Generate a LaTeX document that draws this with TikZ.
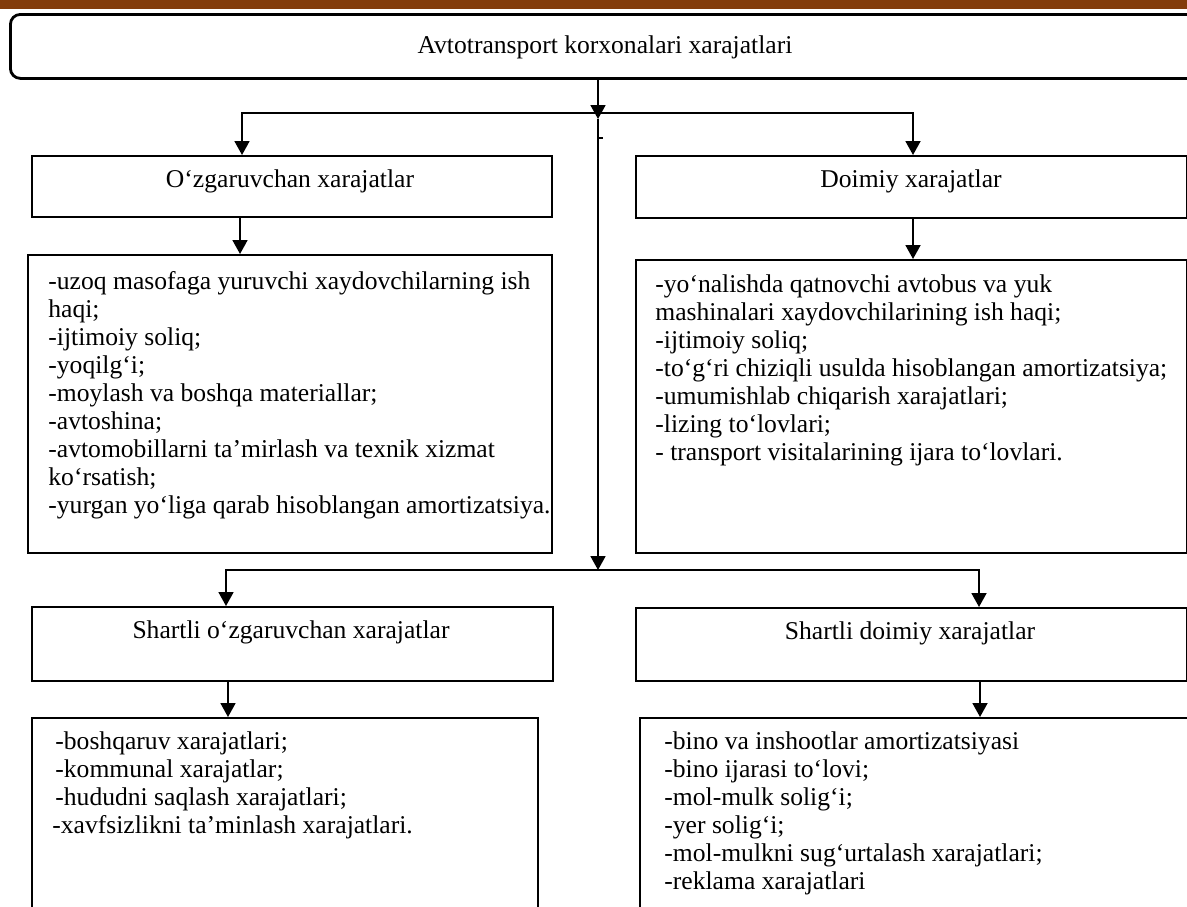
\documentclass[tikz,border=0pt]{standalone}
\usepackage{fontspec}
\setmainfont{Liberation Serif}
\usetikzlibrary{arrows.meta}
\definecolor{rust}{HTML}{833C0B}

\begin{document}
\begin{tikzpicture}[x=0.5pt, y=-0.5pt, >={Triangle[width=7.5pt,length=7pt]},
  frame/.style={draw, line width=1pt, inner sep=0pt, anchor=north west},
  head/.style={anchor=base, inner sep=0pt, font=\fontsize{12.8pt}{14pt}\selectfont},
  items/.style={anchor=north west, inner sep=0pt, align=left, font=\fontsize{12.8pt}{14pt}\selectfont},
  link/.style={->, line width=0.9pt}]
  \useasboundingbox (0,0) rectangle (1187,906);
  \fill[rust] (0,0) rectangle (1187,9);

  % boxes
  \node[frame, line width=1.4pt, rounded corners=5pt, minimum width=596pt, minimum height=32pt] (top) at (9,13) {};
  \node[frame, minimum width=260pt, minimum height=30.5pt] (var) at (31,155) {};
  \node[frame, minimum width=275.5pt, minimum height=31pt] (fix) at (635,155) {};
  \node[frame, minimum width=262pt, minimum height=149pt] (varl) at (27,254) {};
  \node[frame, minimum width=275.5pt, minimum height=146.5pt] (fixl) at (635,259) {};
  \node[frame, minimum width=260.5pt, minimum height=37pt] (svar) at (31,606) {};
  \node[frame, minimum width=275.5pt, minimum height=36.5pt] (sfix) at (635,607) {};
  \node[frame, minimum width=253pt, minimum height=125pt] (svarl) at (31,717) {};
  \node[frame, minimum width=290pt, minimum height=125pt] (sfixl) at (639,717) {};

  % texts
  \node[head] (top-t) at (605,53) {Avtotransport korxonalari xarajatlari};
  \node[head] (var-t) at (290,187) {O‘zgaruvchan xarajatlar};
  \node[head] (fix-t) at (911,187) {Doimiy xarajatlar};
  \node[head] (svar-t) at (291,638) {Shartli o‘zgaruvchan xarajatlar};
  \node[head] (sfix-t) at (910,639) {Shartli doimiy xarajatlar};

  \node[items] (varl-t) at (48,269) {\strut-uzoq masofaga yuruvchi xaydovchilarning ish\\
    haqi;\\
    -ijtimoiy soliq;\\
    -yoqilg‘i;\\
    -moylash va boshqa materiallar;\\
    -avtoshina;\\
    -avtomobillarni ta’mirlash va texnik xizmat\\
    ko‘rsatish;\\
    -yurgan yo‘liga qarab hisoblangan amortizatsiya.};
  \node[items] (fixl-t) at (655,272) {\strut-yo‘nalishda qatnovchi avtobus va yuk\\
    mashinalari xaydovchilarining ish haqi;\\
    -ijtimoiy soliq;\\
    -to‘g‘ri chiziqli usulda hisoblangan amortizatsiya;\\
    -umumishlab chiqarish xarajatlari;\\
    -lizing to‘lovlari;\\
    - transport visitalarining ijara to‘lovlari.};
  \node[items] (svarl-t) at (52,729) {\strut\hspace{1.5pt}-boshqaruv xarajatlari;\\
    \hspace{1.5pt}-kommunal xarajatlar;\\
    \hspace{1.5pt}-hududni saqlash xarajatlari;\\
    -xavfsizlikni ta’minlash xarajatlari.};
  \node[items] (sfixl-t) at (664,729) {\strut-bino va inshootlar amortizatsiyasi\\
    -bino ijarasi to‘lovi;\\
    -mol-mulk solig‘i;\\
    -yer solig‘i;\\
    -mol-mulkni sug‘urtalash xarajatlari;\\
    -reklama xarajatlari};

  % connectors
  \coordinate (split) at (598,113);
  \coordinate (hub) at (598,119);
  \coordinate (join) at (598,570);
  \coordinate (colA) at (242,0);
  \coordinate (colB) at (913,0);
  \coordinate (colC) at (226,0);
  \coordinate (colD) at (979,0);
  \coordinate (colE) at (240,0);
  \coordinate (colF) at (228,0);
  \coordinate (colG) at (980,0);

  \draw[link] (top.south -| split) -- (hub);
  \draw[link] (split) -| (var.north -| colA);
  \draw[link] (split) -| (fix.north -| colB);
  \draw[link] (hub) -- (join);
  \draw[line width=0.9pt] (598,138) -- (603,138);
  \draw[link] (join) -| (svar.north -| colC);
  \draw[link] (join) -| (sfix.north -| colD);
  \draw[link] (var.south -| colE) -- (varl.north -| colE);
  \draw[link] (fix.south -| colB) -- (fixl.north -| colB);
  \draw[link] (svar.south -| colF) -- (svarl.north -| colF);
  \draw[link] (sfix.south -| colG) -- (sfixl.north -| colG);
\end{tikzpicture}
\end{document}
